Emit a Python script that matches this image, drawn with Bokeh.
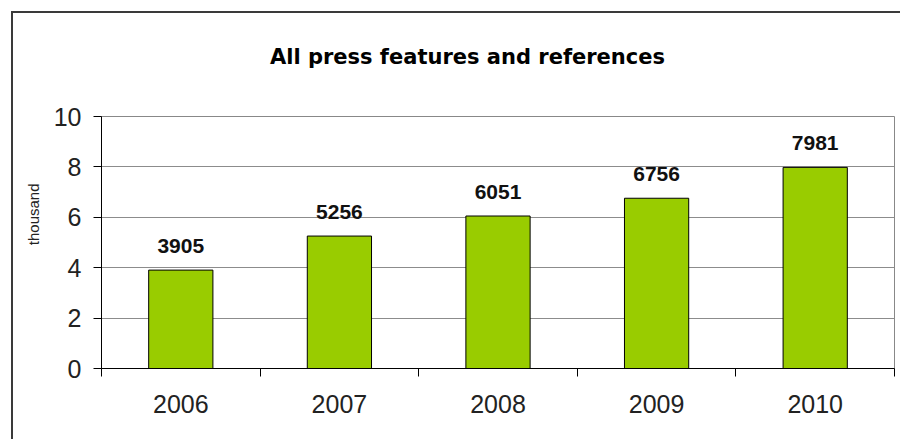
from bokeh.plotting import figure
from bokeh.layouts import column
from bokeh.models import (ColumnDataSource, Range1d, LinearAxis, FixedTicker, Title, LabelSet, Grid, Div)
from bokeh.core.properties import value
from bokeh.embed import file_html
from bokeh.resources import INLINE

years = ["2006", "2007", "2008", "2009", "2010"]
values = [3905, 5256, 6051, 6756, 7981]
thousands = [v / 1000 for v in values]
labels = [str(v) for v in values]
y_ticks = [0, 2, 4, 6, 8, 10]
title_text = "All press features and references"
y_label = "thousand"

n = len(years)
centers = [i + 0.5 for i in range(n)]
src = ColumnDataSource(dict(x=centers, top=thousands, label=labels))

title_div = Div(
    text=('<div style="box-sizing:border-box;width:887px;height:58px;padding-top:32px;'
          'padding-left:22px;text-align:center;font-family:\'DejaVu Sans\';font-weight:bold;'
          'font-size:21px;line-height:24px;color:#000;">' + title_text + '</div>'),
    width=887, height=58, margin=0)

p = figure(x_range=Range1d(0, n), y_range=Range1d(0, 10),
           width=887, height=368, output_backend="svg", toolbar_location=None,
           x_axis_type=None, y_axis_type=None, margin=0,
           min_border_left=87, min_border_right=6, min_border_top=45, min_border_bottom=71)

p.outline_line_color = "#888888"
p.outline_line_width = 1
p.background_fill_color = "white"
p.border_fill_color = "white"

# y axis
yax = LinearAxis(ticker=FixedTicker(ticks=y_ticks))
yax.axis_line_color = "#000000"
yax.major_tick_line_color = "#000000"
yax.major_tick_out = 8
yax.major_tick_in = 0
yax.minor_tick_line_color = None
yax.major_label_text_font = "Liberation Sans"
yax.major_label_text_font_size = "25px"
yax.major_label_text_color = "#222222"
yax.major_label_standoff = 12
p.add_layout(yax, "left")

# y axis caption (outside the axis, shifted toward the top like the reference)
p.add_layout(Title(text=y_label, align="right", offset=67, standoff=18,
                   text_font="Liberation Sans", text_font_size="15px",
                   text_font_style="normal", text_color="#222222"), "left")

# x axis: labels at category centers, tick marks at category boundaries (minor ticks)
cax = LinearAxis(ticker=FixedTicker(ticks=centers, minor_ticks=list(range(n + 1))),
                 major_label_overrides={c: y for c, y in zip(centers, years)})
cax.axis_line_color = "#000000"
cax.major_tick_line_color = None
cax.major_tick_out = 8
cax.major_tick_in = 0
cax.minor_tick_line_color = "#000000"
cax.minor_tick_out = 8
cax.minor_tick_in = 0
cax.major_label_text_font = "Liberation Sans"
cax.major_label_text_font_size = "25px"
cax.major_label_text_color = "#222222"
cax.major_label_standoff = 18
p.add_layout(cax, "below")

g = Grid(dimension=1, ticker=FixedTicker(ticks=y_ticks))
g.grid_line_color = "#8c8c8c"
g.grid_line_width = 1
p.add_layout(g)

p.vbar(x="x", top="top", width=0.405, source=src, fill_color="#99cc00",
       line_color="#000000", line_width=1)

ls = LabelSet(x="x", y="top", text="label", source=src, text_align="center",
              text_baseline="bottom", y_offset=17, text_font=value("Liberation Sans"),
              text_font_size=value("21px"), text_font_style="bold", text_color="#111111")
p.add_layout(ls)

layout = column(title_div, p, spacing=0)
layout.margin = (11, 0, 0, 11)
layout.styles = {"border-left": "2px solid #3a3a3a", "border-top": "2px solid #3a3a3a",
                 "background-color": "white"}

open("out.html", "w").write(file_html(layout, INLINE))
